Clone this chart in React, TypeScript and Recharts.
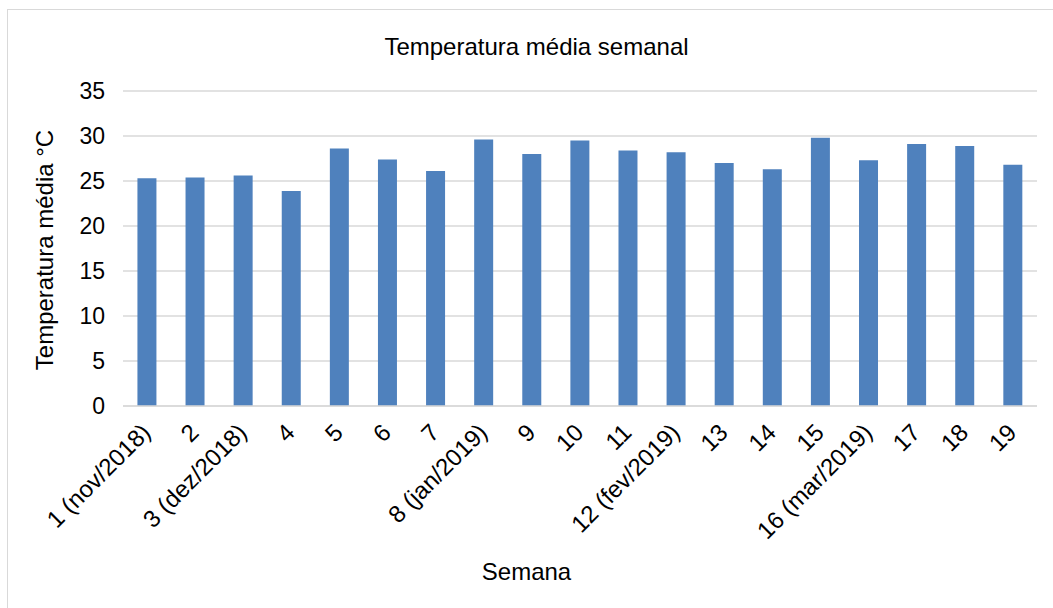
import { BarChart, Bar, XAxis, YAxis, CartesianGrid } from "recharts";

const weeks = [
  "1 (nov/2018)", "2", "3 (dez/2018)", "4", "5", "6", "7", "8 (jan/2019)", "9", "10",
  "11", "12 (fev/2019)", "13", "14", "15", "16 (mar/2019)", "17", "18", "19",
];
const temps = [
  25.3, 25.4, 25.6, 23.9, 28.6, 27.4, 26.1, 29.6, 28.0, 29.5,
  28.4, 28.2, 27.0, 26.3, 29.8, 27.3, 29.1, 28.9, 26.8,
];
const yTicks = [0, 5, 10, 15, 20, 25, 30, 35];

const data = weeks.map((w, i) => ({ week: w, temp: temps[i] }));

const FONT = "'Liberation Sans', Arial, sans-serif";

function WeekTick({ x, y, payload }: any) {
  return (
    <g transform={`translate(${x - 1},${y + 14})`}>
      <text
        transform="rotate(-45)"
        textAnchor="end"
        dy="0.35em"
        fontSize={24}
        fontFamily={FONT}
        fill="#000"
      >
        {payload.value}
      </text>
    </g>
  );
}

export default function App() {
  return (
    <div
      style={{
        position: "fixed",
        left: 7,
        top: 9,
        width: 1046,
        height: 599,
        boxSizing: "border-box",
        borderTop: "1px solid #d9d9d9",
        borderLeft: "1px solid #d9d9d9",
        background: "#fff",
        fontFamily: FONT,
      }}
    >
      <div
        style={{
          position: "absolute",
          left: 0,
          width: 1057,
          top: 23,
          textAlign: "center",
          fontSize: 24,
          color: "#000",
        }}
      >
        Temperatura média semanal
      </div>
      <div
        style={{
          position: "absolute",
          left: 37 - 150,
          top: 240 - 14,
          width: 300,
          textAlign: "center",
          fontSize: 24,
          transform: "rotate(-90deg)",
          color: "#000",
        }}
      >
        Temperatura média °C
      </div>
      <div
        style={{
          position: "absolute",
          left: 0,
          width: 1037,
          top: 548,
          textAlign: "center",
          fontSize: 24,
          color: "#000",
        }}
      >
        Semana
      </div>
      <BarChart
        width={1045}
        height={598}
        data={data}
        margin={{ top: 81, right: 16, left: 55, bottom: 52 }}
        barCategoryGap="30%"
      >
        <CartesianGrid vertical={false} stroke="#d9d9d9" strokeWidth={1.5} />
        <XAxis
          dataKey="week"
          interval={0}
          height={150}
          tickLine={false}
          axisLine={{ stroke: "#d9d9d9", strokeWidth: 1.5 }}
          tick={<WeekTick />}
        />
        <YAxis
          width={60}
          domain={[0, 35]}
          ticks={yTicks}
          tickLine={false}
          axisLine={false}
          tickSize={0}
          tickMargin={18}
          tick={{ fontSize: 23, fill: "#000", fontFamily: FONT }}
        />
        <Bar dataKey="temp" fill="#4f81bd" isAnimationActive={false} />
      </BarChart>
    </div>
  );
}
